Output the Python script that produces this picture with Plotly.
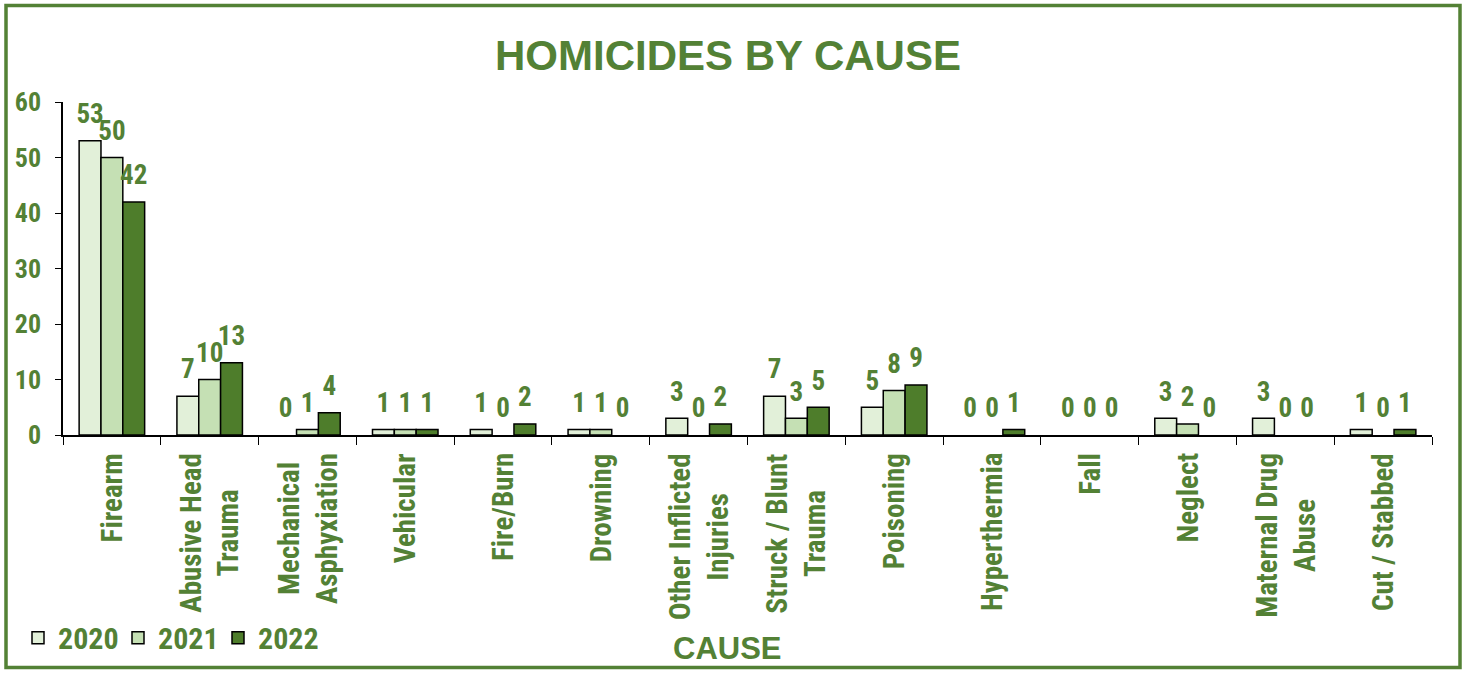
import plotly.graph_objects as go

causes = ['Firearm', 'Abusive Head<br>Trauma', 'Mechanical<br>Asphyxiation', 'Vehicular', 'Fire/Burn',
          'Drowning', 'Other Inflicted<br>Injuries', 'Struck / Blunt<br>Trauma', 'Poisoning',
          'Hyperthermia', 'Fall', 'Neglect', 'Maternal Drug<br>Abuse', 'Cut / Stabbed']
y2020 = [53, 7, 0, 1, 1, 1, 3, 7, 5, 0, 0, 3, 3, 1]
y2021 = [50, 10, 1, 1, 0, 1, 0, 3, 8, 0, 0, 2, 0, 0]
y2022 = [42, 13, 4, 1, 2, 0, 2, 5, 9, 1, 0, 0, 0, 1]

GREEN = '#538135'
NARROW = 'Roboto Condensed, Liberation Sans Narrow, Arial Narrow, sans-serif'
WIDE = 'Liberation Sans, Arial, sans-serif'
series = [('2020', y2020, '#E2F0D9'), ('2021', y2021, '#C5E0B4'), ('2022', y2022, '#4E7D2B')]

fig = go.Figure()
for name, vals, color in series:
    fig.add_trace(go.Bar(
        x=causes, y=vals, name=name, offsetgroup=name,
        marker={'color': color, 'line': {'color': '#000000', 'width': [1.5 if v else 0 for v in vals]}},
    ))
# value labels: invisible markers push the text a little above each bar
for name, vals, color in series:
    fig.add_trace(go.Scatter(
        x=causes, y=vals, offsetgroup=name, mode='markers+text', showlegend=False, hoverinfo='skip',
        marker={'size': 16, 'opacity': 0}, cliponaxis=False,
        text=[f'<b>{v}</b>' for v in vals], textposition='top center',
        textfont={'size': 27, 'color': GREEN, 'family': NARROW},
    ))

# plot area: x 63..1432, y 102..437 (pixels)
W, H = 1466, 675
L, R, T, B = 63, 34, 102, 238
pw, ph = W - L - R, H - T - B


def px(x):
    return (x - L) / pw


def py(y):
    return (H - B - y) / ph


fig.add_shape(type='rect', xref='paper', yref='paper',
              x0=px(6), x1=px(1460), y0=py(671), y1=py(5),
              line={'color': GREEN, 'width': 3.5}, layer='below')

# category labels as annotations so two-line labels are centred
labels = [dict(text=f'<b>{c}</b>', x=c, xref='x', y=0, yref='paper', yanchor='top', yshift=-16,
               xanchor='center', textangle=-90, align='center', showarrow=False,
               font={'size': 29, 'color': GREEN, 'family': NARROW}) for c in causes]
labels.append(dict(text='<b>CAUSE</b>', xref='paper', yref='paper', x=px(727), y=py(652),
                   xanchor='center', yanchor='middle', showarrow=False,
                   font={'size': 31, 'color': GREEN, 'family': WIDE}))

fig.update_layout(
    width=W, height=H,
    title={'text': '<b>HOMICIDES BY CAUSE</b>', 'x': 728 / W, 'xanchor': 'center', 'y': 1 - 55 / H,
           'yanchor': 'middle', 'font': {'size': 42, 'color': GREEN, 'family': WIDE}},
    barmode='group', bargap=0.33, bargroupgap=0, scattermode='group',
    plot_bgcolor='white', paper_bgcolor='white',
    margin={'l': L, 'r': R, 't': T, 'b': B, 'pad': 0},
    font={'family': NARROW, 'color': GREEN},
    legend={'orientation': 'h', 'x': px(18), 'xanchor': 'left', 'y': py(641), 'yanchor': 'middle',
            'font': {'size': 30, 'color': GREEN, 'family': NARROW, 'weight': 'bold'}, 'itemwidth': 30,
            'entrywidth': 55, 'entrywidthmode': 'pixels',
            'bgcolor': 'rgba(0,0,0,0)', 'traceorder': 'normal'},
    xaxis={'showline': True, 'linecolor': '#000000', 'linewidth': 1.5, 'ticks': 'outside',
           'tickson': 'boundaries', 'ticklen': 8, 'tickcolor': '#000000', 'showticklabels': False,
           'showgrid': False},
    yaxis={'range': [0, 60], 'dtick': 10, 'showline': True, 'linecolor': '#000000', 'linewidth': 1.5,
           'ticks': 'outside', 'ticklen': 6, 'tickcolor': '#000000', 'showgrid': False, 'zeroline': False,
           'tickprefix': '<b>', 'ticksuffix': '</b>', 'ticklabelstandoff': 9,
           'tickfont': {'size': 26, 'color': GREEN, 'family': NARROW}},
    annotations=labels,
)

fig.write_html('out.html', config={'displayModeBar': False},
               post_script="document.body.style.margin='0';")
